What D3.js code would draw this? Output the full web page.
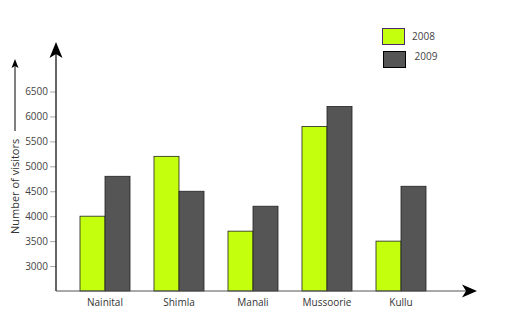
<!DOCTYPE html>
<html>
<head>
<meta charset="utf-8">
<script src="https://cdn.jsdelivr.net/npm/d3@7"></script>
<style>
  body { margin: 0; background: #fff; }
  text { font-family: "Open Sans", sans-serif; }
</style>
</head>
<body>
<div id="chart"></div>
<script>
/* DATA */
const places = ["Nainital", "Shimla", "Manali", "Mussoorie", "Kullu"];
const years = ["2008", "2009"];
const visitors2008 = [4000, 5200, 3700, 5800, 3500];
const visitors2009 = [4800, 4500, 4200, 6200, 4600];
const yTicks = [3000, 3500, 4000, 4500, 5000, 5500, 6000, 6500];

/* CONSTANTS */
const width = 512, height = 320;
const colors = { "2008": "#c4ff0e", "2009": "#555555" };
const axisX = 56, axisY = 291;

const rows = places.map((p, i) => ({ place: p, "2008": visitors2008[i], "2009": visitors2009[i] }));

const svg = d3.select("#chart").append("svg")
  .attr("width", width)
  .attr("height", height);

/* SCALES */
const xScale = d3.scaleBand()
  .domain(places)
  .range([68, 438])
  .paddingInner(0.324)
  .paddingOuter(0.162);

const xSub = d3.scaleBand()
  .domain(years)
  .range([0, xScale.bandwidth()]);

const yScale = d3.scaleLinear()
  .domain([2500, 6500])
  .range([axisY, 91.5]);

/* BARS */
svg.append("g")
  .selectAll("g")
  .data(rows)
  .join("g")
  .attr("transform", d => `translate(${xScale(d.place)},0)`)
  .selectAll("rect")
  .data(d => years.map(y => ({ year: y, value: d[y] })))
  .join("rect")
  .attr("x", d => xSub(d.year))
  .attr("width", xSub.bandwidth())
  .attr("y", d => yScale(d.value))
  .attr("height", d => axisY - yScale(d.value))
  .attr("fill", d => colors[d.year])
  .attr("stroke", "#222")
  .attr("stroke-width", 0.8);

/* Y AXIS */
const yAxis = d3.axisLeft(yScale)
  .tickValues(yTicks)
  .tickSize(6)
  .tickPadding(2)
  .tickFormat(d3.format("d"));

const yg = svg.append("g")
  .attr("transform", `translate(${axisX},0)`)
  .call(yAxis);
yg.select(".domain").remove();
yg.selectAll(".tick line").attr("stroke", "#aaa");
yg.selectAll(".tick text")
  .attr("font-size", 10)
  .attr("fill", "#444")
  .style("font-family", "'Open Sans', sans-serif");

// main axis lines with arrows
svg.append("line")
  .attr("x1", axisX).attr("x2", axisX)
  .attr("y1", axisY).attr("y2", 50)
  .attr("stroke", "#000").attr("stroke-width", 1.2);
svg.append("path")
  .attr("d", `M${axisX},42 L${axisX + 6.5},58 L${axisX},54 L${axisX - 6.5},58 Z`)
  .attr("fill", "#000");

svg.append("line")
  .attr("x1", axisX).attr("x2", 470)
  .attr("y1", axisY).attr("y2", axisY)
  .attr("stroke", "#555").attr("stroke-width", 1.2);
svg.append("path")
  .attr("d", `M477,${axisY} L462,${axisY - 6.5} L466,${axisY} L462,${axisY + 6.5} Z`)
  .attr("fill", "#000");

/* X LABELS */
svg.append("g")
  .selectAll("text")
  .data(places)
  .join("text")
  .attr("x", d => xScale(d) + xScale.bandwidth() / 2)
  .attr("y", 306)
  .attr("text-anchor", "middle")
  .attr("font-size", 10)
  .attr("fill", "#333")
  .text(d => d);

/* Y LABEL with arrow */
svg.append("text")
  .attr("transform", "translate(19,234) rotate(-90)")
  .attr("text-anchor", "start")
  .attr("font-size", 11)
  .attr("fill", "#333")
  .text("Number of visitors");
svg.append("line")
  .attr("x1", 15).attr("x2", 15)
  .attr("y1", 131).attr("y2", 64)
  .attr("stroke", "#000").attr("stroke-width", 1);
svg.append("path")
  .attr("d", "M15,59 L18.5,68 L15,66 L11.5,68 Z")
  .attr("fill", "#000");

/* LEGEND */
const legend = svg.append("g");
legend.selectAll("rect")
  .data(years)
  .join("rect")
  .attr("x", (d, i) => 382.5 + i)
  .attr("y", (d, i) => 28.5 + i * 23)
  .attr("width", 22)
  .attr("height", 16)
  .attr("fill", d => colors[d])
  .attr("stroke", (d, i) => i === 0 ? "#4b2a6e" : "#000")
  .attr("stroke-width", 1);
legend.selectAll("text")
  .data(years)
  .join("text")
  .attr("x", (d, i) => 412 + i * 2.5)
  .attr("y", (d, i) => 40 + i * 20)
  .attr("font-size", 10)
  .attr("fill", "#444")
  .text(d => d);
</script>
</body>
</html>
